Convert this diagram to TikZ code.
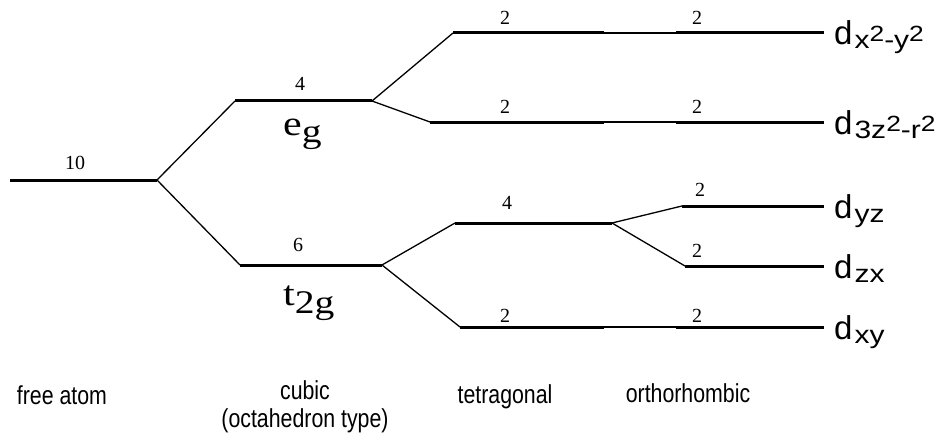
\documentclass[tikz,border=0pt]{standalone}
\usepackage{fontspec}
\setmainfont{Liberation Serif}
\setsansfont{Liberation Sans}
\usepackage{tikz}
\usetikzlibrary{positioning}

% orbital and irrep labels
\newcommand{\orb}[1]{{\sffamily\fontsize{33}{33}\selectfont d\hspace{2pt}\raisebox{-4pt}{\scalebox{1.2}[1]{\fontsize{25}{25}\selectfont #1}}}}
\newcommand{\sq}{\raisebox{7pt}{\fontsize{22}{22}\selectfont 2}}
\newcommand{\irrep}[2]{\scalebox{1.2}[1]{\fontsize{35}{35}\selectfont #1\raisebox{-8pt}{\fontsize{33}{33}\selectfont #2}}}
\newcommand{\phasetext}[1]{\scalebox{0.82}[1]{#1}}

\begin{document}
\begin{tikzpicture}[
    x=1pt, y=-1pt,
    level/.style={line width=3pt},
    link/.style={line width=1.3pt},
    num/.style={font=\fontsize{20}{20}\selectfont, inner sep=0pt},
    orbital/.style={anchor=base west, inner sep=0pt},
    irreplabel/.style={anchor=base west, inner sep=0pt},
    phase/.style={font=\sffamily\fontsize{26}{28}\selectfont, align=center, inner sep=0pt},
]
    \useasboundingbox (0,0) rectangle (949,441);

    % Level end points
    \coordinate (free-l) at (10,180);   \coordinate (free-r) at (157,180);
    \coordinate (eg-l)   at (235,101);  \coordinate (eg-r)   at (372,101);
    \coordinate (t2g-l)  at (240,265);  \coordinate (t2g-r)  at (382,265);
    % tetragonal
    \coordinate (a-l) at (453,33);   \coordinate (a-r) at (604,33);
    \coordinate (b-l) at (430,122);  \coordinate (b-r) at (604,122);
    \coordinate (e-l) at (455,223);  \coordinate (e-r) at (612,223);
    \coordinate (c-l) at (460,327);  \coordinate (c-r) at (604,327);
    % orthorhombic
    \coordinate (x2-l)  at (676,33);   \coordinate (x2-r)  at (824,33);
    \coordinate (z2-l)  at (676,122);  \coordinate (z2-r)  at (824,122);
    \coordinate (yz-l)  at (682,206);  \coordinate (yz-r)  at (824,206);
    \coordinate (zx-l)  at (685,266);  \coordinate (zx-r)  at (824,266);
    \coordinate (xy-l)  at (676,327);  \coordinate (xy-r)  at (824,327);

    % Levels
    \foreach \lv in {free,eg,t2g,a,b,e,c,x2,z2,yz,zx,xy}
        \draw[level] (\lv-l) -- (\lv-r);

    % Splitting
    \draw[link] (free-r) -- (eg-l);
    \draw[link] (free-r) -- (t2g-l);
    \draw[link] (eg-r) -- (a-l);
    \draw[link] (eg-r) -- (b-l);
    \draw[link] (t2g-r) -- (e-l);
    \draw[link] (t2g-r) -- (c-l);
    \draw[link] (a-r) -- (x2-l);
    \draw[link] (b-r) -- (z2-l);
    \draw[link] (e-r) -- (yz-l);
    \draw[link] (e-r) -- (zx-l);
    \draw[link] (c-r) -- (xy-l);

    % Degeneracies
    \node[num] (n-free) at (75,163) {10};
    \node[num] (n-eg)   at (300,84) {4};
    \node[num] (n-t2g)  at (298,245) {6};
    \node[num] (n-a)    at (505,18) {2};
    \node[num] (n-x2)   at (697,18) {2};
    \node[num] (n-b)    at (505,107) {2};
    \node[num] (n-z2)   at (697,107) {2};
    \node[num] (n-e)    at (507,203) {4};
    \node[num] (n-yz)   at (700,190) {2};
    \node[num] (n-zx)   at (697,251) {2};
    \node[num] (n-c)    at (505,316) {2};
    \node[num] (n-xy)   at (697,316) {2};

    % Irreps
    \node[irreplabel] (eg)  at (283,135) {\irrep{e}{g}};
    \node[irreplabel] (t2g) at (283,305) {\irrep{t}{2g}};

    % Orbitals
    \node[orbital] (d-x2) at (834,45)  {\orb{x\sq-y\sq}};
    \node[orbital] (d-z2) at (834,134) {\orb{3z\sq-r\sq}};
    \node[orbital] (d-yz) at (834,218) {\orb{yz}};
    \node[orbital] (d-zx) at (834,278) {\orb{zx}};
    \node[orbital] (d-xy) at (834,339) {\orb{xy}};

    % Symmetry
    \node[phase] (p-free)  at (62,395)  {\phasetext{free atom}};
    \node[phase] (p-cubic) at (305,407) {\phasetext{cubic}\\\phasetext{(octahedron type)}};
    \node[phase] (p-tetra) at (505,397) {\phasetext{tetragonal}};
    \node[phase] (p-ortho) at (688,393) {\phasetext{orthorhombic}};
\end{tikzpicture}
\end{document}
